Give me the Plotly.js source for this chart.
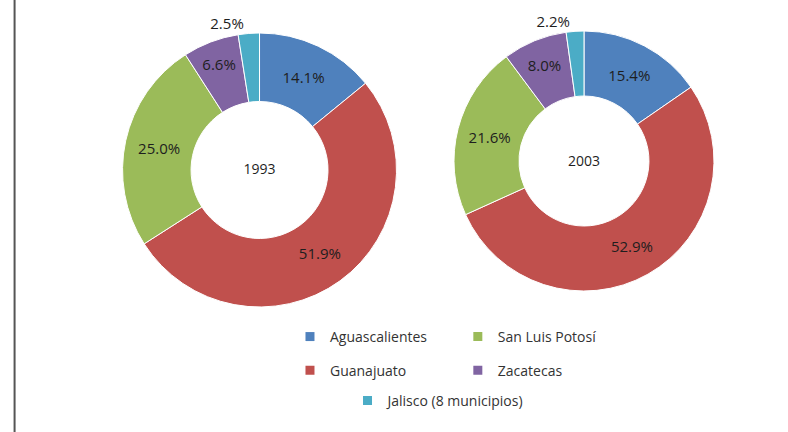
<!DOCTYPE html>
<html>
<head>
<meta charset="utf-8">
<script src="https://cdn.plot.ly/plotly-3.0.1.min.js"></script>
<style>html,body{margin:0;padding:0;background:#fff;}#chart{width:788px;height:432px;}</style>
</head>
<body>
<div id="chart"></div>
<script>
// Data
const categories = ['Aguascalientes', 'Guanajuato', 'San Luis Potosí', 'Zacatecas', 'Jalisco (8 municipios)'];
const values1993 = [14.1, 51.9, 25.0, 6.6, 2.5];
const values2003 = [15.4, 52.9, 21.6, 8.0, 2.2];
const years = ['1993', '2003'];
const colors = ['#4F81BD', '#C0504D', '#9BBB59', '#8064A2', '#4BACC6'];
// legend display order (column-major as in the reference)
const legendOrder = ['Aguascalientes', 'San Luis Potosí', 'Guanajuato', 'Zacatecas', 'Jalisco (8 municipios)'];

const FONT = 'Open Sans, Liberation Sans, sans-serif';
const textPos = ['inside', 'inside', 'inside', 'inside', 'outside'];

function pie(vals, year, dom) {
  return {
    type: 'pie',
    labels: categories,
    values: vals,
    sort: false,
    direction: 'clockwise',
    rotation: 0,
    hole: 0.5,
    domain: dom,
    marker: {colors: colors, line: {color: '#ffffff', width: 1}},
    texttemplate: '%{value:.1f}%',
    textposition: textPos,
    insidetextorientation: 'horizontal',
    textfont: {family: FONT, size: 15, color: '#1e1e1e'},
    outsidetextfont: {family: FONT, size: 15, color: '#1e1e1e'},
    title: {text: year, position: 'middle center', font: {family: FONT, size: 14, color: '#1e1e1e'}},
    showlegend: false,
    hoverinfo: 'label+percent'
  };
}

const traces = [
  pie(values1993, years[0], {x: [0.1555, 0.5032], y: [0.2894, 0.9236]}),
  pie(values2003, years[1], {x: [0.5761, 0.9061], y: [0.3264, 0.9282]})
];

const legendNames = ['legend', 'legend2', 'legend3', 'legend4', 'legend5'];
legendOrder.forEach(function(name, i) {
  traces.push({
    type: 'scatter', mode: 'markers', x: [null], y: [null],
    name: name, legend: legendNames[i], showlegend: true,
    marker: {symbol: 'square', size: 9, color: colors[categories.indexOf(name)]},
    hoverinfo: 'skip'
  });
});

const legFont = {family: FONT, size: 14, color: '#333333'};
function leg(x, y) {
  return {x: x, y: y, xanchor: 'left', yanchor: 'middle', font: legFont, bgcolor: 'rgba(0,0,0,0)', borderwidth: 0};
}

const layout = {
  width: 788, height: 432,
  margin: {l: 0, r: 0, t: 0, b: 0},
  paper_bgcolor: '#ffffff', plot_bgcolor: '#ffffff',
  xaxis: {visible: false}, yaxis: {visible: false},
  legend: leg(0.368, 0.220),
  legend2: leg(0.581, 0.220),
  legend3: leg(0.368, 0.142),
  legend4: leg(0.581, 0.142),
  legend5: leg(0.441, 0.072),
  shapes: [{type: 'line', xref: 'paper', yref: 'paper', x0: 0.0185, x1: 0.0185, y0: 0, y1: 1,
            line: {color: '#555555', width: 2}}]
};

Plotly.newPlot('chart', traces, layout, {displayModeBar: false, staticPlot: true});
</script>
</body>
</html>
